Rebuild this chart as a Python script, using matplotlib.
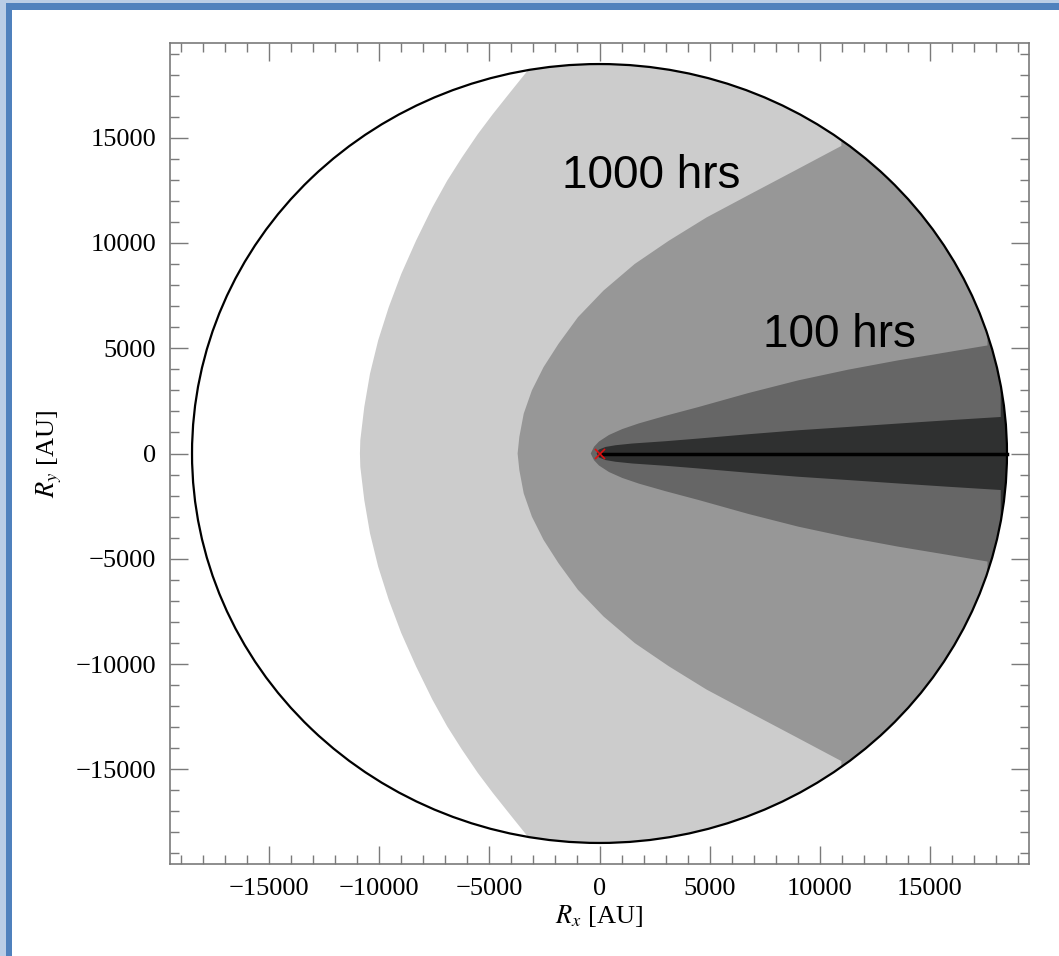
import matplotlib
matplotlib.use("Agg")
import matplotlib.pyplot as plt
from matplotlib.patches import Circle, Polygon, Rectangle
import numpy as np

# Fonts: serif axes (Palatino-like), sans for the annotations
plt.rcParams['font.family'] = ['Liberation Serif', 'DejaVu Serif']
plt.rcParams['mathtext.fontset'] = 'stix'

# --- data (AU) ---
R_CIRCLE = 18500
AX_LIM = 19500

# upper-half boundaries of each exposure zone (x, y); lower half is mirrored
zone_1000_x = [-3160, -4010, -4850, -5530, -6250, -6920, -7590, -8330,
               -9000, -9570, -10050, -10420, -10680, -10860, -10877]
zone_1000_y = [18322, 17218, 16114, 15166, 14057, 12953, 11687, 10109,
               8531, 6948, 5370, 3791, 2209, 630, 0]

zone_100_x = [10981, 8850, 6850, 4860, 3150, 1600, 180, -980, -1860,
              -2540, -3070, -3440, -3640, -3718]
zone_100_y = [14611, 13427, 12322, 11213, 10109, 9005, 7739, 6474, 5213,
              4104, 3000, 1896, 787, 0]

zone_10_x = [17616, 15807, 13546, 11284, 9023, 6762, 4500, 2994, 1787,
             1031, 430, -23, -249, -398]
zone_10_y = [5133, 4815, 4422, 3981, 3474, 2872, 2209, 1790, 1430,
             1160, 880, 570, 320, 0]

zone_1_x = [18218, 15807, 13546, 11284, 9023, 6762, 4500, 2994, 1483,
            732, 280, -23, -100, -127]
zone_1_y = [1735, 1578, 1422, 1261, 1104, 915, 711, 583, 474,
            393, 313, 190, 76, 0]

zone_colors = ['#cccccc', '#979797', '#666666', '#2f3030']

labels = ['1000 hrs', '100 hrs']
label_x = [-1696, 7440]
label_y = [12635, 5052]

ticks = [-15000, -10000, -5000, 0, 5000, 10000, 15000]

fig = plt.figure(figsize=(10.59, 9.56), dpi=100)

# slide-style blue frame (left and top edges)
fig.patches.append(Rectangle((0, 0), 1, 1, transform=fig.transFigure,
                             facecolor='#b9cde6', edgecolor='none', zorder=-3))
fig.patches.append(Rectangle((6 / 1059, 0), 1, 1 - 3 / 956, transform=fig.transFigure,
                             facecolor='#4f81bd', edgecolor='none', zorder=-2))
fig.patches.append(Rectangle((12 / 1059, 0), 1, 1 - 10 / 956, transform=fig.transFigure,
                             facecolor='white', edgecolor='none', zorder=-1))

ax = fig.add_axes([170 / 1059, 92 / 956, 859 / 1059, 821 / 956])
ax.set_facecolor('none')

circle = Circle((0, 0), R_CIRCLE, facecolor='none', edgecolor='black',
                linewidth=1.6, zorder=5)
ax.add_patch(circle)

zones = [(zone_1000_x, zone_1000_y), (zone_100_x, zone_100_y),
         (zone_10_x, zone_10_y), (zone_1_x, zone_1_y)]
big = 25000
for (zx, zy), col in zip(zones, zone_colors):
    zx = np.array(zx, dtype=float)
    zy = np.array(zy, dtype=float)
    upper = np.column_stack([zx, zy])
    lower = np.column_stack([zx[::-1], -zy[::-1]])
    pts = np.vstack([[[zx[0], big]], upper, lower[1:],
                     [[zx[0], -big], [big, -big], [big, big]]])
    poly = Polygon(pts, closed=True, facecolor=col, edgecolor='none', zorder=1)
    ax.add_patch(poly)
    poly.set_clip_path(circle)

ax.plot([0, R_CIRCLE], [0, 0], color='black', linewidth=2.5, zorder=6)
ax.plot([0], [0], marker='x', color='#dd1111', markersize=7, mew=1.2, zorder=7)

for txt, tx, ty in zip(labels, label_x, label_y):
    ax.text(tx, ty, txt, fontsize=33, family=['Liberation Sans', 'DejaVu Sans'],
            ha='left', va='baseline', color='black', zorder=8)

ax.set_xlim(-AX_LIM, AX_LIM)
ax.set_ylim(-AX_LIM, AX_LIM)
ax.set_xticks(ticks)
ax.set_yticks(ticks)
ax.xaxis.set_major_formatter(plt.FuncFormatter(lambda v, p: f"{int(v)}".replace('-', '\u2212')))
ax.yaxis.set_major_formatter(plt.FuncFormatter(lambda v, p: f"{int(v)}".replace('-', '\u2212')))
ax.xaxis.set_minor_locator(plt.MultipleLocator(1000))
ax.yaxis.set_minor_locator(plt.MultipleLocator(1000))
ax.tick_params(which='both', direction='in', top=True, right=True,
               color='#7a7a7a', width=1.0, labelsize=19, pad=10)
ax.tick_params(which='major', length=13)
ax.tick_params(which='minor', length=6.5)
for s in ax.spines.values():
    s.set_color('#7a7a7a')
    s.set_linewidth(1.2)

ax.set_xlabel(r'$R_x$ [AU]', fontsize=19, labelpad=2)
ax.set_ylabel(r'$R_y$ [AU]', fontsize=19, labelpad=8)

fig.savefig('out.png', dpi=100)
